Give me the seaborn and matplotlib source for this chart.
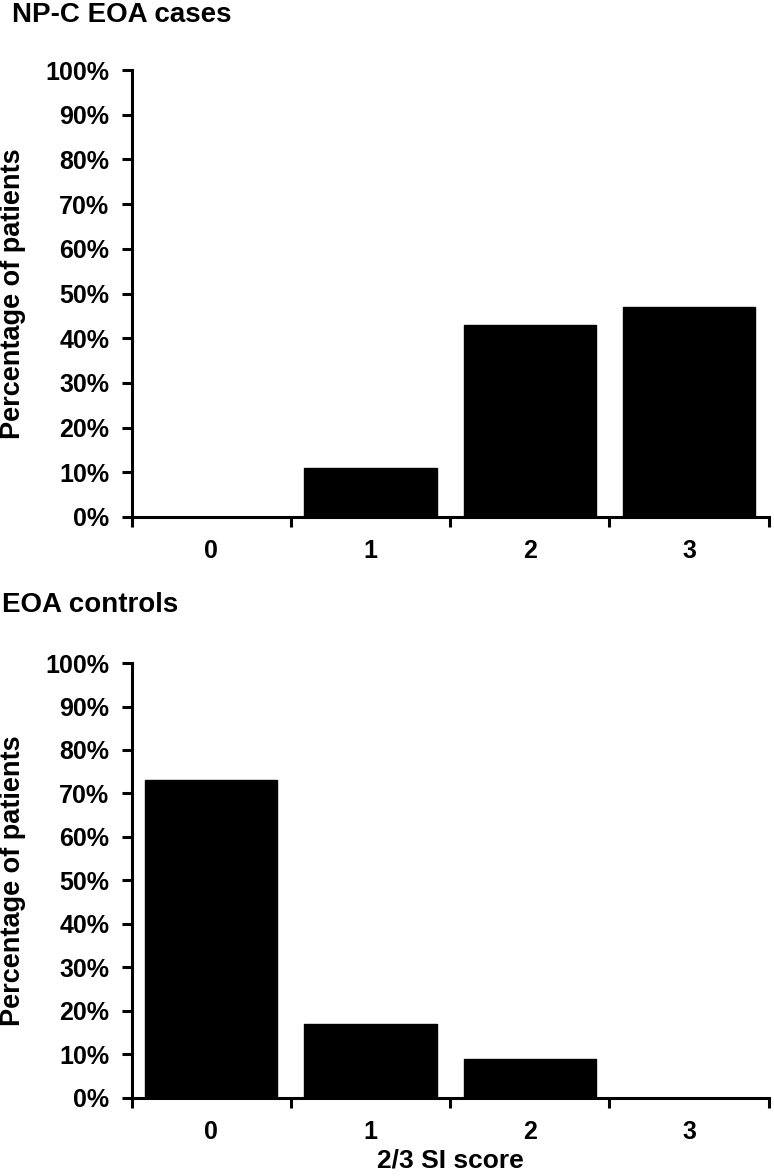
import numpy as np
import pandas as pd
import matplotlib
matplotlib.use("Agg")
import matplotlib.pyplot as plt
import seaborn as sns
from matplotlib.ticker import PercentFormatter, FixedLocator

# Data
scores = ["0", "1", "2", "3"]
cases_pct = [0, 11, 43, 47]
controls_pct = [73, 17, 9, 0]
y_ticks = list(range(0, 101, 10))

sns.set_style("white")
plt.rcParams["font.family"] = ["Liberation Sans", "DejaVu Sans"]
plt.rcParams["font.weight"] = "bold"
plt.rcParams["text.color"] = "black"
plt.rcParams["axes.labelcolor"] = "black"
plt.rcParams["xtick.color"] = "black"
plt.rcParams["ytick.color"] = "black"

fig = plt.figure(figsize=(7.74, 11.76), dpi=100)
ax_top = fig.add_axes([0.170, 0.5604, 0.823, 0.380])
ax_bot = fig.add_axes([0.170, 0.0665, 0.823, 0.3697])

panels = [
    (ax_top, cases_pct, "NP-C EOA cases"),
    (ax_bot, controls_pct, "EOA controls"),
]

for ax, vals, title in panels:
    df = pd.DataFrame({"score": scores, "pct": vals})
    sns.barplot(data=df, x="score", y="pct", order=scores, color="black",
                edgecolor="black", width=0.83, ax=ax, saturation=1)
    ax.set_xlim(-0.5, 3.5)
    ax.set_ylim(0, 100)
    ax.yaxis.set_major_locator(FixedLocator(y_ticks))
    ax.yaxis.set_major_formatter(PercentFormatter(decimals=0))
    # category boundary ticks, labels in between
    ax.set_xticks([-0.5, 0.5, 1.5, 2.5, 3.5])
    ax.set_xticklabels([])
    ax.set_xticks(range(len(scores)), minor=True)
    ax.set_xticklabels(scores, minor=True)
    ax.tick_params(axis="x", which="major", direction="out", length=7, width=2.2, bottom=True)
    ax.tick_params(axis="x", which="minor", length=0, pad=16, labelsize=18)
    ax.tick_params(axis="y", direction="out", length=7, width=2.2, left=True, pad=9, labelsize=18)
    for lab in ax.get_xticklabels(minor=True) + ax.get_yticklabels():
        lab.set_fontweight("bold")
    sns.despine(ax=ax)
    for side in ["left", "bottom"]:
        ax.spines[side].set_linewidth(2.2)
        ax.spines[side].set_color("black")
    ax.set_xlabel("")
    ax.set_ylabel("Percentage of patients", fontsize=19.5, fontweight="bold")
    ax.yaxis.set_label_coords(-0.165, 0.5)

ax_bot.set_xlabel("2/3 SI score", fontsize=19, fontweight="bold", labelpad=3)

fig.text(0.016, 0.9872, "NP-C EOA cases", fontsize=20, fontweight="bold", va="center", ha="left")
fig.text(0.003, 0.4855, "EOA controls", fontsize=20, fontweight="bold", va="center", ha="left")

fig.savefig("out.png", dpi=100)
